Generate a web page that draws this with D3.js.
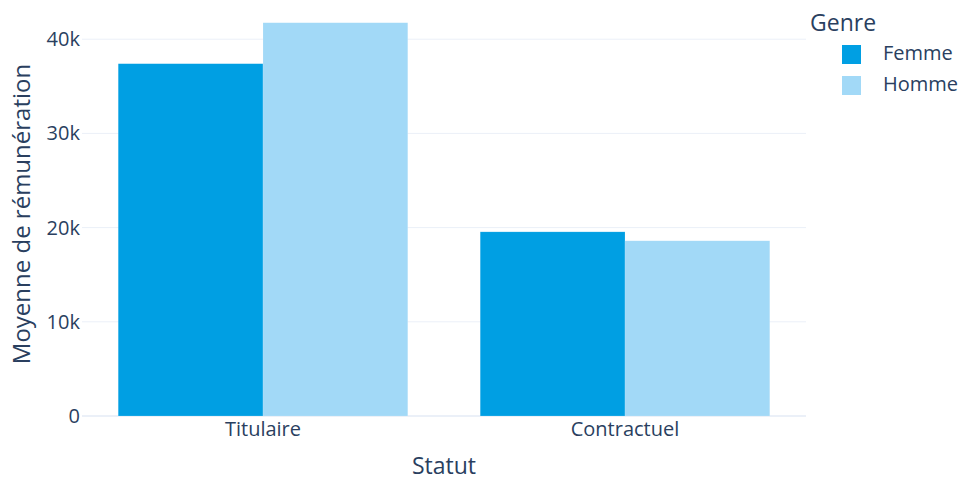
<!DOCTYPE html>
<head>
<meta charset="utf-8">
<script src="https://d3js.org/d3.v7.min.js"></script>
<style>
body { margin: 0; background: #fff; font-family: "Open Sans", sans-serif; }
text { fill: #2a3f5f; font-family: "Open Sans", sans-serif; }
.grid line { stroke: #ebf0f8; }
</style>
</head>
<body>
<svg width="963" height="479"></svg>
<script>
var statuts = ["Titulaire", "Contractuel"];
var genres = ["Femme", "Homme"];
var femme = [37400, 19550];
var homme = [41750, 18600];
var couleurs = ["#009fe3", "#a2d9f7"];
var yTicks = [0, 10000, 20000, 30000, 40000];

var svg = d3.select("svg");
var mLeft = 82, mRight = 806, mTop = 2, mBottom = 416;

var x = d3.scaleBand().domain(statuts).range([mLeft, mRight]).paddingInner(0.2).paddingOuter(0.1);
var xg = d3.scaleBand().domain(genres).range([0, x.bandwidth()]);
var y = d3.scaleLinear().domain([0, 43950]).range([mBottom, mTop]);

// grille
var grid = svg.append("g").attr("class", "grid");
grid.selectAll("line").data(yTicks).enter().append("line")
    .attr("x1", mLeft).attr("x2", mRight)
    .attr("y1", function(d) { return y(d); })
    .attr("y2", function(d) { return y(d); })
    .attr("stroke-width", function(d) { return d === 0 ? 2 : 1; });

var series = [femme, homme];
var rows = [];
genres.forEach(function(g, i) {
  statuts.forEach(function(s, j) {
    rows.push({ genre: g, statut: s, value: series[i][j], c: couleurs[i] });
  });
});

svg.append("g").selectAll("rect").data(rows).enter().append("rect")
    .attr("x", function(d) { return x(d.statut) + xg(d.genre); })
    .attr("width", xg.bandwidth())
    .attr("y", function(d) { return y(d.value); })
    .attr("height", function(d) { return y(0) - y(d.value); })
    .attr("fill", function(d) { return d.c; })
    .attr("stroke", "#ffffff").attr("stroke-opacity", 0.3).attr("stroke-width", 0.5);

// axe y
var fmt = function(d) { return d === 0 ? "0" : (d / 1000) + "k"; };
svg.append("g").selectAll("text").data(yTicks).enter().append("text")
    .attr("x", 80).attr("y", function(d) { return y(d); })
    .attr("dy", "0.35em").attr("text-anchor", "end")
    .style("font-size", "20px").text(fmt);

// axe x
svg.append("g").selectAll("text").data(statuts).enter().append("text")
    .attr("x", function(d) { return x(d) + x.bandwidth() / 2; })
    .attr("y", 436).attr("text-anchor", "middle")
    .style("font-size", "20px").text(function(d) { return d; });

svg.append("text").attr("x", (mLeft + mRight) / 2).attr("y", 474)
    .attr("text-anchor", "middle").style("font-size", "23px").text("Statut");

svg.append("text").attr("transform", "translate(30,214) rotate(-90)")
    .attr("text-anchor", "middle").style("font-size", "24px").text("Moyenne de rémunération");

// légende
var leg = svg.append("g");
leg.append("text").attr("x", 810).attr("y", 31).style("font-size", "23px").text("Genre");
var items = leg.selectAll("g").data(genres).enter().append("g")
    .attr("transform", function(d, i) { return "translate(0," + (i * 31) + ")"; });
items.append("rect").attr("x", 842).attr("y", 45).attr("width", 19).attr("height", 19)
    .attr("fill", function(d, i) { return couleurs[i]; });
items.append("text").attr("x", 883).attr("y", 60).style("font-size", "20px")
    .text(function(d) { return d; });
</script>
</body>
